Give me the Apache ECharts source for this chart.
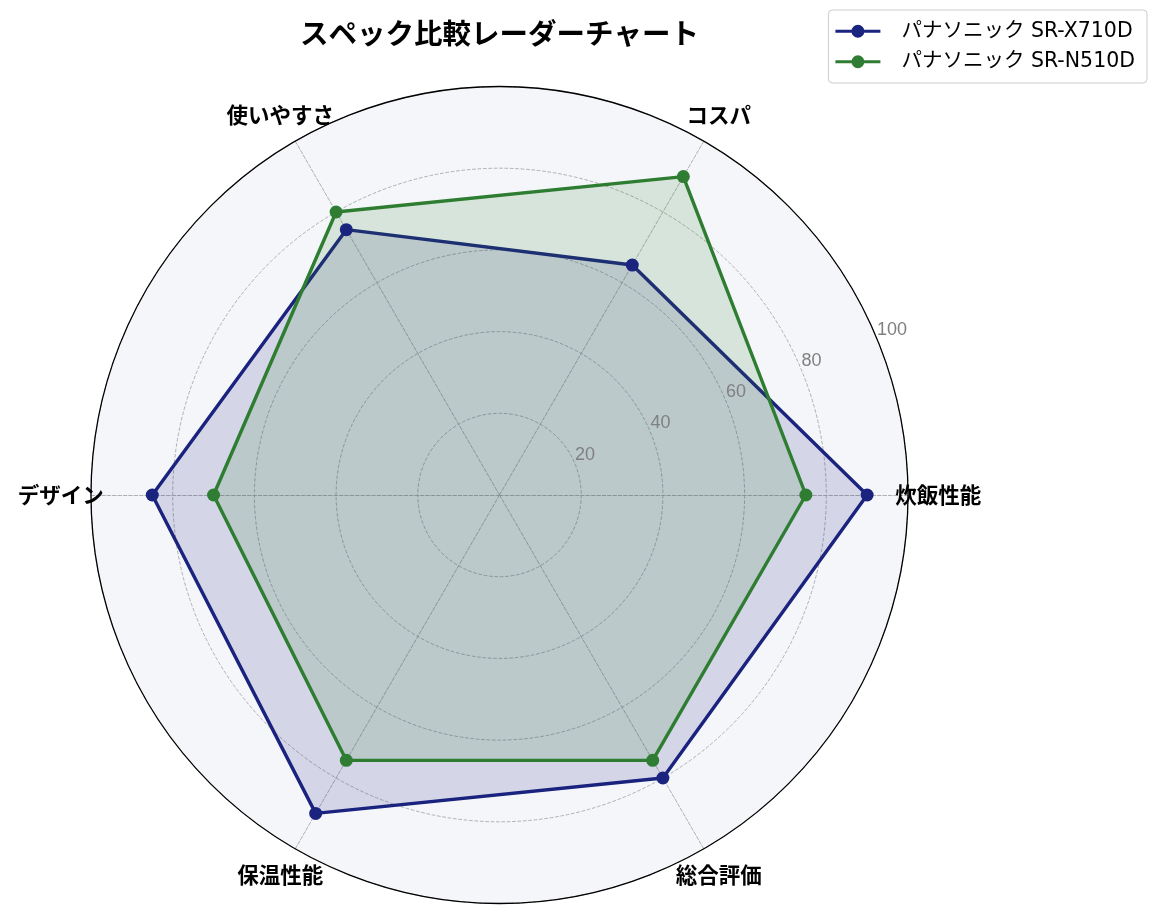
<!DOCTYPE html>
<html>
<head>
<meta charset="utf-8">
<script src="https://cdn.jsdelivr.net/npm/echarts@6/dist/echarts.min.js"></script>
<style>html,body{margin:0;padding:0;background:#fff;}#chart{width:1159px;height:920px;}</style>
</head>
<body>
<div id="chart"></div>
<script>
const indicators = ['炊飯性能', 'コスパ', '使いやすさ', 'デザイン', '保温性能', '総合評価'];
const seriesNames = ['パナソニック SR-X710D', 'パナソニック SR-N510D'];
const valuesX710D = [90, 65, 75, 85, 90, 80];
const valuesN510D = [75, 90, 80, 70, 75, 75];
const radialTicks = [20, 40, 60, 80, 100];
const colors = ['#1a237e', '#2e7d32'];

const FONT = '"Noto Sans CJK JP", "Noto Sans", sans-serif';
const FONT_MIX = '"DejaVu Sans", "Noto Sans CJK JP", sans-serif';
const CENTER = [499.5, 495];
const RADIUS = 408.5;
const LABEL_R = 107.4;
const legendIcon = 'path://M0,5H45V8H0Z M29,6.5 A6.5,6.5 0 1,1 16,6.5 A6.5,6.5 0 1,1 29,6.5 Z';

const chart = echarts.init(document.getElementById('chart'));
chart.setOption({
  animation: false,
  backgroundColor: '#ffffff',
  textStyle: { fontFamily: FONT },
  title: {
    text: 'スペック比較レーダーチャート',
    left: 499.5, top: 19, padding: 0,
    textAlign: 'center',
    textStyle: { fontFamily: FONT, fontSize: 28.5, fontWeight: 'bold', color: '#000' }
  },
  legend: {
    orient: 'vertical', right: 12, top: 10,
    data: seriesNames,
    icon: legendIcon, itemWidth: 45, itemHeight: 13, itemGap: 10,
    padding: [11, 12, 11, 7],
    borderColor: '#cccccc', borderWidth: 1, borderRadius: 4,
    textStyle: { fontFamily: FONT_MIX, fontSize: 20.5, color: '#000', padding: [0, 0, 0, 16] }
  },
  radar: {
    center: CENTER, radius: RADIUS, startAngle: 0, shape: 'circle', splitNumber: 5,
    indicator: indicators.map(n => ({ name: n, min: 0, max: 100 })),
    axisName: { show: false },
    splitLine: { lineStyle: { color: '#a8a8a8', type: 'dashed', width: 0.9 } },
    splitArea: { show: true, areaStyle: { color: ['#f5f6fa'] } },
    axisLine: { lineStyle: { color: '#a8a8a8', type: 'dashed', width: 0.9 } },
    axisTick: { show: false }, axisLabel: { show: false }
  },
  polar: [
    { center: CENTER, radius: RADIUS },
    { center: CENTER, radius: RADIUS }
  ],
  angleAxis: [
    { polarIndex: 0, type: 'value', min: 0, max: 360, startAngle: 22.5, z: 5,
      axisLine: { show: true, lineStyle: { color: '#000', width: 1.3 } },
      axisTick: { show: false }, axisLabel: { show: false }, splitLine: { show: false } },
    { polarIndex: 1, type: 'category', data: indicators, boundaryGap: false, startAngle: 0, clockwise: false,
      axisLine: { show: false }, axisTick: { show: false }, axisLabel: { show: false }, splitLine: { show: false } }
  ],
  radiusAxis: [
    { polarIndex: 0, type: 'value', min: 0, max: 100, interval: 20, z: 5,
      axisLine: { show: false }, axisTick: { show: false }, splitLine: { show: false },
      axisLabel: { show: true, color: '#808080', fontSize: 18, fontFamily: '"Liberation Sans", Arial, sans-serif',
        align: 'left', verticalAlign: 'bottom', margin: 0,
        formatter: v => (radialTicks.indexOf(v) >= 0 ? String(v) : '') } },
    { polarIndex: 1, type: 'value', min: 0, max: 100,
      axisLine: { show: false }, axisTick: { show: false }, splitLine: { show: false }, axisLabel: { show: false } }
  ],
  series: [
    {
      type: 'radar', z: 3,
      symbol: 'circle', symbolSize: 13,
      data: [
        { name: seriesNames[0], value: valuesX710D,
          itemStyle: { color: colors[0] },
          lineStyle: { color: colors[0], width: 3.4 },
          areaStyle: { color: colors[0], opacity: 0.15 } },
        { name: seriesNames[1], value: valuesN510D,
          itemStyle: { color: colors[1] },
          lineStyle: { color: colors[1], width: 3.4 },
          areaStyle: { color: colors[1], opacity: 0.15 } }
      ]
    },
    {
      type: 'scatter', coordinateSystem: 'polar', polarIndex: 1, clip: false, silent: true, z: 6,
      symbolSize: 0, itemStyle: { color: '#000000', opacity: 1 },
      data: indicators.map(n => ({ name: n, value: [LABEL_R, n] })),
      label: { show: true, position: 'inside', formatter: '{b}', color: '#000000', opacity: 1,
        fontSize: 21.5, fontWeight: 'bold', fontFamily: FONT, textBorderWidth: 0 }
    }
  ]
});
</script>
</body>
</html>
